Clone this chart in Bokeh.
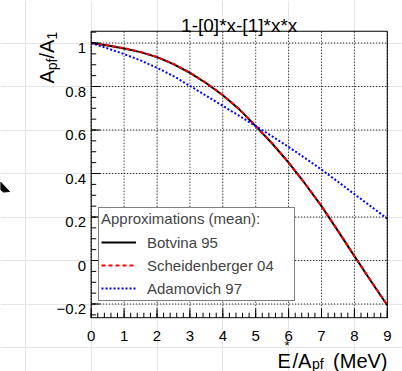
import numpy as np
from bokeh.plotting import figure
from bokeh.models import Range1d, Label, Legend, LegendItem
from bokeh.core.properties import value
from bokeh.embed import file_html
from bokeh.resources import INLINE

# ---------------- data ----------------
energy = [0.0, 0.5, 1.0, 1.5, 2.0, 2.5, 3.0, 3.5, 4.0, 4.5,
          5.0, 5.5, 6.0, 6.5, 7.0, 7.5, 8.0, 8.5, 9.0]
botvina = [1.000, 0.989, 0.975, 0.958, 0.935, 0.903, 0.863, 0.815, 0.760, 0.695,
           0.618, 0.538, 0.450, 0.353, 0.250, 0.136, 0.020, -0.094, -0.206]
scheidenberger = [1.000, 0.990, 0.976, 0.959, 0.936, 0.904, 0.864, 0.816, 0.761, 0.696,
                  0.619, 0.539, 0.451, 0.354, 0.251, 0.137, 0.021, -0.093, -0.205]
adamovich = [1.000, 0.975, 0.949, 0.920, 0.886, 0.848, 0.803, 0.757, 0.711, 0.665,
             0.618, 0.571, 0.522, 0.471, 0.418, 0.362, 0.305, 0.249, 0.192]

x_ticks = [0, 1, 2, 3, 4, 5, 6, 7, 8, 9]
x_tick_labels = ["0", "1", "2", "3", "4", "5", "6", "7", "8", "9"]
y_ticks = [-0.2, 0.0, 0.2, 0.4, 0.6, 0.8, 1.0]
y_tick_labels = ["\u22120.2", "0", "0.2", "0.4", "0.6", "0.8", "1"]
title_text = "1-[0]*x-[1]*x*x"
legend_header = "Approximations (mean):"
series_names = ["Botvina 95", "Scheidenberger 04", "Adamovich 97"]

# ---------------- layout (pixel geometry of the ROOT-like frame) ----------------
FONT = "Liberation Sans"
W, H = 402, 371
PX_X0, PX_PER_X = 90.7, 32.9      # pixel of x=0, pixels per x unit
PX_Y0, PX_PER_Y = 260.0, 217.5    # pixel of y=0, pixels per y unit
XMIN, XMAX = 0.0, 9.0
YMIN, YMAX = -0.263, 1.054


def dx(px):
    return (px - PX_X0) / PX_PER_X


def dy(py):
    return (PX_Y0 - py) / PX_PER_Y


p = figure(width=W, height=H, x_range=Range1d(dx(0), dx(W)), y_range=Range1d(dy(H), dy(0)),
           output_backend="svg", toolbar_location=None, title=None,
           x_axis_location=None, y_axis_location=None, min_border=0)
p.background_fill_color = "white"
p.border_fill_color = "white"
p.outline_line_color = None

# grid (dotted, at major ticks)
nx, ny = len(x_ticks), len(y_ticks)
p.segment(x0=x_ticks, y0=[YMIN] * nx, x1=x_ticks, y1=[YMAX] * nx,
          line_color="black", line_width=1, line_dash="1 2")
p.segment(x0=[XMIN] * ny, y0=y_ticks, x1=[XMAX] * ny, y1=y_ticks,
          line_color="black", line_width=1, line_dash="1 2")

# curves
r_bot = p.line(energy, botvina, line_color="black", line_width=2)
r_sch = p.line(energy, scheidenberger, line_color="red", line_width=2, line_dash="4 3")
r_ada = p.line(energy, adamovich, line_color="blue", line_width=2, line_dash="2 2")

# frame
p.quad(left=[XMIN], right=[XMAX], bottom=[YMIN], top=[YMAX], fill_color=None,
       line_color="black", line_width=1)

# ticks (inside the frame, left and bottom)
MAJ, MIN = 9, 5
minor_x = [v for v in np.arange(XMIN, XMAX + 1e-9, 0.2)]
minor_y = [v for v in np.arange(-0.25, YMAX, 0.05)]
p.segment(x0=[XMIN] * ny, y0=y_ticks, x1=[XMIN + MAJ / PX_PER_X] * ny, y1=y_ticks,
          line_color="black", line_width=1)
p.segment(x0=[XMIN] * len(minor_y), y0=minor_y, x1=[XMIN + MIN / PX_PER_X] * len(minor_y),
          y1=minor_y, line_color="black", line_width=1)
p.segment(x0=x_ticks, y0=[YMIN] * nx, x1=x_ticks, y1=[YMIN + MAJ / PX_PER_Y] * nx,
          line_color="black", line_width=1)
p.segment(x0=minor_x, y0=[YMIN] * len(minor_x), x1=minor_x,
          y1=[YMIN + MIN / PX_PER_Y] * len(minor_x), line_color="black", line_width=1)

# tick labels
p.text(x=[XMIN] * ny, y=y_ticks, text=y_tick_labels, x_offset=-5, y_offset=5,
       text_align="right", text_baseline="alphabetic", text_font=value(FONT),
       text_font_size="15px", text_color="black")
p.text(x=x_ticks, y=[YMIN] * nx, text=x_tick_labels, y_offset=18,
       text_align="center", text_baseline="alphabetic", text_font=value(FONT),
       text_font_size="15px", text_color="black")

# small black arrow tip at the left edge of the canvas (present in the reference)
p.patch(x=[dx(0), dx(9), dx(3), dx(0)], y=[dy(181.5), dy(191), dy(191.5), dy(189)],
        fill_color="black", line_color="black", line_width=1)

# legend
legend = Legend(items=[LegendItem(label=series_names[0], renderers=[r_bot]),
                       LegendItem(label=series_names[1], renderers=[r_sch]),
                       LegendItem(label=series_names[2], renderers=[r_ada])],
                location=(98, 70), title=legend_header)
legend.border_line_color = "black"
legend.border_line_width = 1
legend.background_fill_color = "white"
legend.background_fill_alpha = 1.0
legend.label_text_font = FONT
legend.label_text_font_size = "15px"
legend.title_text_font = FONT
legend.title_text_font_size = "15px"
legend.title_text_font_style = "normal"
legend.glyph_width = 35
legend.glyph_height = 20
legend.label_height = 20
legend.label_width = 145
legend.label_standoff = 11
legend.spacing = 3
legend.padding = 2
legend.title_standoff = 5
legend.margin = 0
p.add_layout(legend)


def lab(px, py, text, size, align="left", angle=0.0):
    p.add_layout(Label(x=dx(px), y=dy(py), text=text, angle=angle, text_font=FONT,
                       text_font_size=size, text_align=align, text_baseline="alphabetic",
                       text_color="black"))


# title
lab(238.7, 24.5, title_text, "19px", align="center")

# y axis title  A_pf / A_1  (rotated)
ang = np.pi / 2
lab(46.5, 83.0, "A", "20px", angle=ang)
lab(51.5, 69.7, "pf", "14px", angle=ang)
lab(46.5, 58.0, "/A", "20px", angle=ang)
lab(51.5, 39.1, "1", "14px", angle=ang)

# x axis title  E*/A_pf (MeV)
lab(277.0, 360.0, "E", "20px")
lab(284.0, 345.0, "*", "13px")
lab(292.0, 360.0, "/A", "20px")
lab(311.5, 363.0, "pf", "14px")
lab(387.0, 360.0, "(MeV)", "20px", align="right")

open("out.html", "w").write(file_html(p, INLINE))
